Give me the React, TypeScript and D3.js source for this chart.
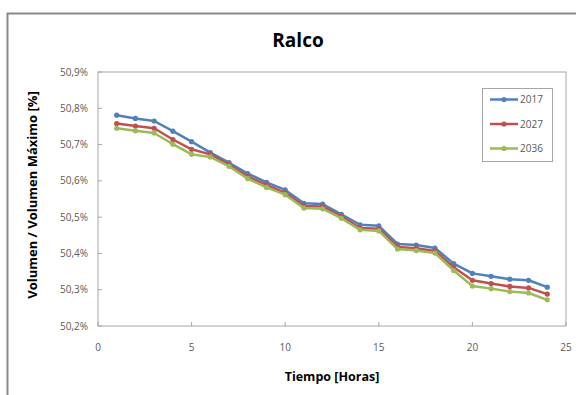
import React from "react";
import * as d3 from "d3";

const hours = [1,2,3,4,5,6,7,8,9,10,11,12,13,14,15,16,17,18,19,20,21,22,23,24];
const s2017 = [50.781,50.772,50.765,50.737,50.708,50.678,50.65,50.62,50.596,50.575,50.538,50.536,50.508,50.479,50.476,50.426,50.423,50.415,50.372,50.345,50.337,50.329,50.326,50.307];
const s2027 = [50.758,50.751,50.745,50.714,50.687,50.673,50.645,50.612,50.589,50.567,50.531,50.529,50.502,50.47,50.468,50.418,50.414,50.407,50.362,50.326,50.317,50.309,50.305,50.288];
const s2036 = [50.745,50.738,50.732,50.701,50.673,50.666,50.64,50.606,50.582,50.562,50.525,50.523,50.497,50.465,50.462,50.412,50.408,50.401,50.353,50.31,50.303,50.295,50.291,50.272];
const seriesNames = ["2017", "2027", "2036"];
const seriesColors = ["#4F81BD", "#C0504D", "#9BBB59"];
const xTicks = [0,5,10,15,20,25];
const yTicks = [50.2,50.3,50.4,50.5,50.6,50.7,50.8,50.9];
const title = "Ralco";
const xTitle = "Tiempo [Horas]";
const yTitle = "Volumen / Volumen Máximo [%]";

const W = 576, H = 395;
const L = 98, R = 566, T = 72, B = 326;
const font = "'Open Sans', 'Noto Sans', sans-serif";

export default function App() {
  const x = d3.scaleLinear().domain([0, 25]).range([L, R]);
  const y = d3.scaleLinear().domain([50.2, 50.9]).range([B, T]);
  const all = [s2017, s2027, s2036];
  const line = d3.line<number>().x((_, i) => x(hours[i])).y(d => y(d));
  const fmt = (v: number) => v.toFixed(1).replace(".", ",") + "%";
  return (
    <svg width={W} height={H} style={{ position: "absolute", left: 0, top: 0, background: "#fff" }}>
      <rect x={0} y={0} width={W} height={H} fill="#fff" />
      <path d={`M7.5,${H} V13.5 H${W}`} fill="none" stroke="#888" strokeWidth={2} />
      <text x={298} y={47} textAnchor="middle" fontFamily={font} fontWeight="bold" fontSize={19} fill="#000">{title}</text>
      <rect x={L} y={T} width={R - L} height={B - T} fill="none" stroke="#a6a6a6" strokeWidth={1} />
      {yTicks.map(t => (
        <g key={t}>
          <line x1={L} x2={L + 4} y1={y(t)} y2={y(t)} stroke="#a6a6a6" />
          <text x={88} y={y(t) + 3.5} textAnchor="end" fontFamily={font} fontSize={10} fill="#595959">{fmt(t)}</text>
        </g>
      ))}
      {xTicks.map(t => (
        <g key={t}>
          <line x1={x(t)} x2={x(t)} y1={B} y2={B - 4} stroke="#a6a6a6" />
          <text x={x(t)} y={351} textAnchor="middle" fontFamily={font} fontSize={10} fill="#595959">{t}</text>
        </g>
      ))}
      <text x={(L + R) / 2} y={381} textAnchor="middle" fontFamily={font} fontWeight="bold" fontSize={12.5} fill="#000">{xTitle}</text>
      <text transform={`translate(37,195) rotate(-90)`} textAnchor="middle" fontFamily={font} fontWeight="bold" fontSize={13} fill="#000">{yTitle}</text>
      {all.map((s, k) => (
        <g key={k}>
          <path d={line(s) || ""} fill="none" stroke={seriesColors[k]} strokeWidth={2.5} strokeLinejoin="round" />
          {s.map((v, i) => (
            <circle key={i} cx={x(hours[i])} cy={y(v)} r={2.6} fill={seriesColors[k]} />
          ))}
        </g>
      ))}
      <rect x={482.5} y={88.5} width={70} height={73} fill="#fff" stroke="#a6a6a6" />
      {seriesNames.map((n, k) => {
        const ly = 99.5 + k * 24.5;
        return (
          <g key={n}>
            <line x1={490} x2={518} y1={ly} y2={ly} stroke={seriesColors[k]} strokeWidth={2.5} />
            <circle cx={504} cy={ly} r={2.6} fill={seriesColors[k]} />
            <text x={520} y={ly + 3.5} fontFamily={font} fontSize={10} fill="#595959">{n}</text>
          </g>
        );
      })}
    </svg>
  );
}
